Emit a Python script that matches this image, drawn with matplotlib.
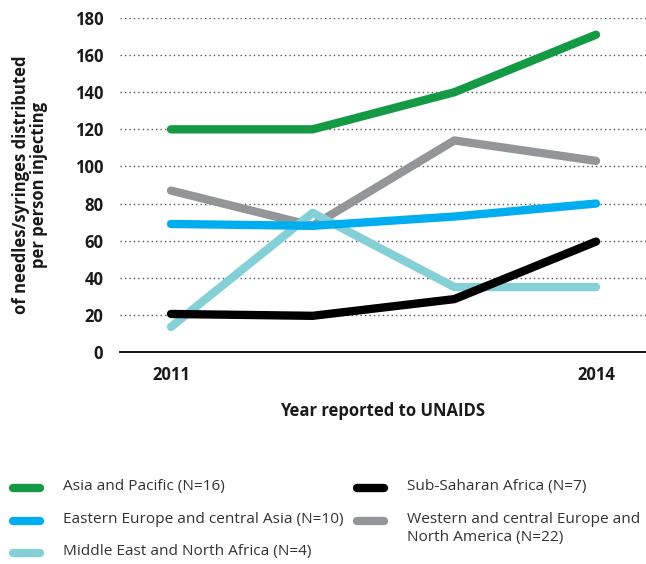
import matplotlib
matplotlib.use("Agg")
import matplotlib.pyplot as plt
from matplotlib.lines import Line2D

years = [2011, 2012, 2013, 2014]
xtick_labels = ["2011", "", "", "2014"]
yticks = [0, 20, 40, 60, 80, 100, 120, 140, 160, 180]

series_names = [
    "Asia and Pacific (N=16)",
    "Eastern Europe and central Asia (N=10)",
    "Middle East and North Africa (N=4)",
    "Sub-Saharan Africa (N=7)",
    "Western and central Europe and\nNorth America (N=22)",
]
asia_pacific = [120, 120, 140, 171]
eeca = [69, 68, 73, 80]
mena = [13.5, 75, 35, 35]
ssa = [20.5, 19.5, 28.5, 59.5]
wcena = [87, 68, 114, 103]
series_values = [asia_pacific, eeca, mena, ssa, wcena]
colors = ["#149a45", "#00aeef", "#84d0d6", "#000000", "#939598"]
draw_order = [4, 2, 3, 1, 0]

plt.rcParams['font.family'] = ['Open Sans', 'DejaVu Sans']

W, H = 646, 564
fig = plt.figure(figsize=(W / 100, H / 100), dpi=100)
ax = fig.add_axes([120 / W, 1 - 352 / H, (646 - 120) / W, (352 - 18) / H])

for i in draw_order:
    ax.plot(years, series_values[i], color=colors[i], lw=6, solid_capstyle='round',
            solid_joinstyle='round', clip_on=False, zorder=3)

ax.set_ylim(0, 180)
ax.set_xlim(2011 - 51 / 141.7, 2014 + 50 / 141.7)
ax.set_yticks(yticks)
ax.set_yticklabels([str(v) for v in yticks], fontsize=12, fontweight='bold', color='#1a1a1a')
ax.set_xticks(years)
ax.set_xticklabels(xtick_labels, fontsize=12, fontweight='bold', color='#1a1a1a')
ax.tick_params(axis='both', length=0)
ax.tick_params(axis='y', pad=12)
ax.tick_params(axis='x', pad=10)
for y in yticks[1:]:
    ax.axhline(y, color='#555555', lw=1.0, ls=(0, (1, 2.2)), zorder=1)
for s in ['top', 'right', 'left']:
    ax.spines[s].set_visible(False)
ax.spines['bottom'].set_color('black')
ax.spines['bottom'].set_linewidth(1.3)

ax.set_xlabel("Year reported to UNAIDS", fontsize=12, fontweight='bold', color='#1a1a1a', labelpad=13)
fig.text(30 / W, 1 - 185 / H, "of needles/syringes distributed\nper person injecting",
         rotation=90, ha='center', va='center', fontsize=12, fontweight='bold',
         color='#1a1a1a', linespacing=1.0)

# legend
col_x = [13, 357]
row_y = [488, 521, 553]
slots = [(0, 0), (0, 1), (0, 2), (1, 0), (1, 1)]
for i, (c, r) in enumerate(slots):
    x0 = col_x[c]
    y0 = row_y[r]
    fig.add_artist(Line2D([x0 / W, (x0 + 27) / W], [1 - y0 / H, 1 - y0 / H],
                          transform=fig.transFigure, color=colors[i], lw=6,
                          solid_capstyle='round'))
    fig.text((x0 + 50) / W, 1 - (y0 - 9) / H, series_names[i], ha='left', va='top',
             fontsize=11.1, color='#333333', linespacing=1.25)

fig.savefig("out.png", dpi=100)
